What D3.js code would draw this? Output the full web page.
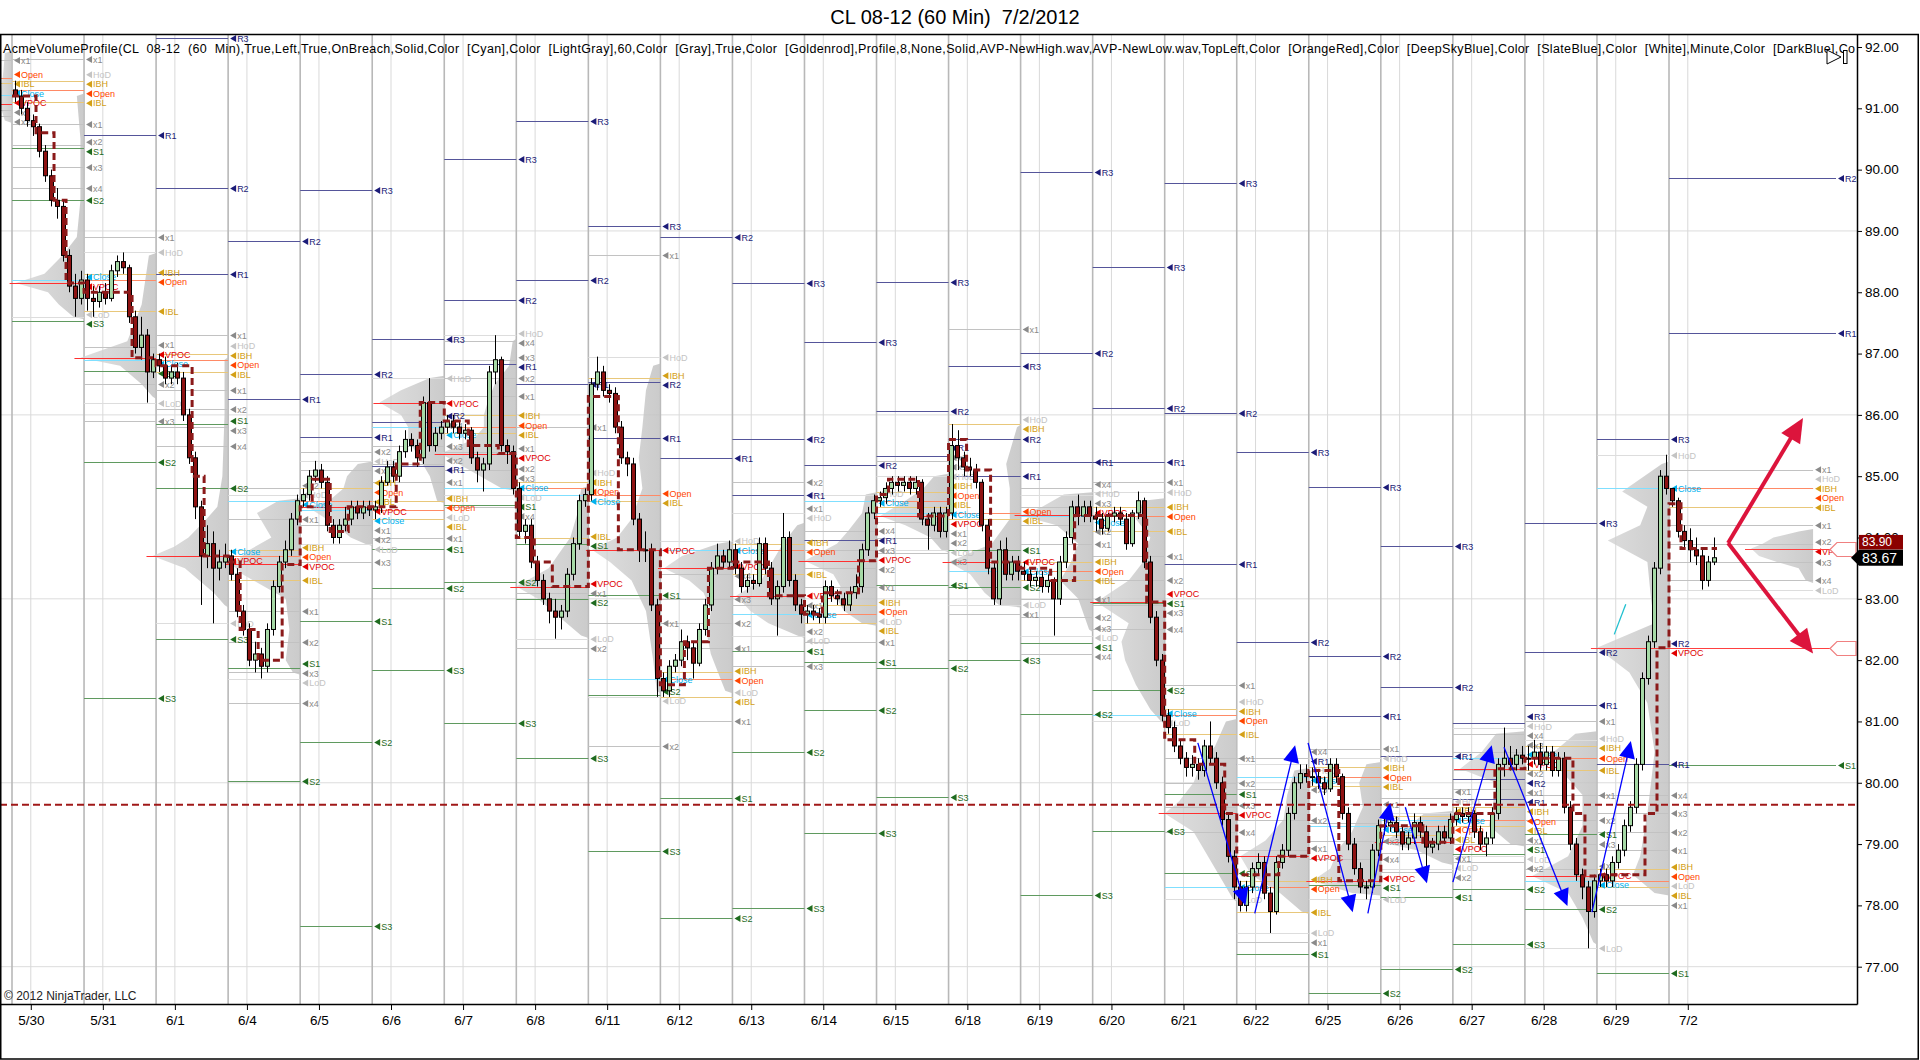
<!DOCTYPE html>
<html>
<head>
<meta charset="utf-8">
<script src="https://cdn.jsdelivr.net/npm/d3@7"></script>
<style>
  html, body { margin: 0; padding: 0; background: #fff; }
  svg { display: block; font-family: "Liberation Sans", Arial, sans-serif; }
</style>
</head>
<body>
<svg id="chart" width="1920" height="1060"></svg>
<script>
// ---- data ----
var sessionDates = ["5/30","5/31","6/1","6/4","6/5","6/6","6/7","6/8","6/11","6/12","6/13","6/14",
                    "6/15","6/18","6/19","6/20","6/21","6/22","6/25","6/26","6/27","6/28","6/29","7/2"];
var priceTicks = [77,78,79,80,81,82,83,84,85,86,87,88,89,90,91,92];
var gridPrices = [77,80,83,86,89];

// 5/29 session (mostly left of the chart): used for the 5/30 pivots and its own labels
var prevSession = {high: 92.58, low: 90.61, close: 91.22};
var prevLevels = [[91.78,"x1"],[91.5,"Open"],[91.41,"IBL"],[91.22,"Close"],[91.07,"VPOC"],[90.97,"x1"],[90.87,"x2"]];
var prevProfile = [[90.8,0.1],[91.07,0.17],[91.3,0.15],[91.6,0.12],[91.9,0.1]];
var firstOpen = 91.3;

var closes = [
  [91.2,91.0,90.8,90.7,90.3,89.9,89.5,89.4,88.6,88.1,87.9,88.2],
  [87.9,87.85,88.0,87.9,88.35,88.5,88.4,87.6,87.1,87.3,86.7,86.9],
  [86.8,86.6,86.7,86.6,86.0,85.3,84.5,83.7,83.9,83.5,83.6,83.7],
  [83.4,82.8,82.5,82.0,82.1,81.9,82.5,83.2,83.6,83.8,84.3,84.6],
  [84.7,85.0,85.1,84.9,84.2,84.0,84.2,84.3,84.5,84.4,84.5,84.45],
  [84.5,84.9,85.15,85.0,85.4,85.6,85.5,85.3,86.2,85.5,85.7,85.8],
  [85.9,85.8,85.7,85.75,85.3,85.1,85.2,86.7,86.9,85.5,85.4,84.8],
  [84.1,84.2,83.6,83.3,83.0,82.8,82.7,82.8,83.4,83.9,84.6,84.7],
  [86.5,86.7,86.4,86.35,85.8,85.3,85.2,84.3,83.8,83.8,82.9,81.7],
  [81.5,81.9,82.0,82.3,82.2,81.95,82.5,82.9,83.5,83.7,83.6,83.8],
  [83.5,83.2,83.3,83.25,83.9,83.5,83.0,83.2,84.0,83.3,82.9,82.75],
  [82.8,82.75,82.7,83.2,83.05,83.0,82.9,83.1,83.2,83.8,84.4,84.6],
  [84.65,84.8,84.9,84.85,84.9,84.8,84.9,84.3,84.2,84.4,84.1,84.4],
  [85.5,85.3,85.15,85.1,84.9,84.2,83.5,83.0,83.8,83.4,83.6,83.45],
  [83.4,83.3,83.35,83.2,83.3,83.0,83.6,84.0,84.5,84.35,84.5,84.35],
  [84.3,84.15,84.35,84.4,84.3,83.9,84.4,84.6,83.6,82.7,82.0,81.1],
  [80.9,80.6,80.4,80.25,80.3,80.2,80.6,80.4,80.0,79.4,78.8,78.3],
  [78.0,78.3,78.6,78.7,78.2,77.9,78.7,78.9,79.5,80.0,80.15,80.1],
  [80.1,80.0,79.9,80.3,80.1,79.5,79.0,78.6,78.3,78.3,78.9,79.3],
  [79.3,79.35,79.2,79.0,79.1,79.35,79.2,78.95,79.0,79.2,79.1,79.4],
  [79.5,79.45,79.5,79.2,79.0,79.1,79.5,80.3,80.4,80.3,80.45,80.4],
  [80.4,80.5,80.3,80.5,80.2,80.4,79.6,79.0,78.5,78.3,77.9,78.4],
  [78.5,78.4,78.7,78.9,79.3,79.6,80.3,81.7,82.3,83.5,85.0,84.8],
  [84.6,84.1,83.95,83.8,83.7,83.3,83.6,83.67]
];
var highs = [
  [91.45,91.3,91.1,90.9,90.75,90.4,90.0,89.7,89.5,88.7,88.3,88.35],
  [88.3,88.1,88.1,88.15,88.45,88.6,88.65,88.45,87.7,87.6,87.4,87.0],
  [87.0,86.95,86.8,86.85,86.7,86.1,85.4,84.6,84.2,84.1,83.8,83.9],
  [83.8,83.5,82.9,82.6,82.3,82.2,82.6,83.3,83.7,83.95,84.4,84.7],
  [84.8,85.1,85.25,85.2,85.0,84.3,84.3,84.5,84.6,84.6,84.6,84.6],
  [84.6,85.0,85.25,85.25,85.5,85.75,85.7,85.6,86.3,86.6,85.8,85.9],
  [86.0,86.0,85.9,85.85,85.8,85.4,85.3,86.8,87.3,86.95,85.6,85.5],
  [84.9,84.3,84.3,83.7,83.4,83.1,83.0,82.9,83.5,84.0,84.7,84.8],
  [86.6,86.95,86.8,86.5,86.45,85.9,85.4,85.3,84.4,84.1,83.9,83.0],
  [81.8,82.0,82.1,82.5,82.4,82.3,82.6,83.0,83.6,83.9,83.8,83.95],
  [83.9,83.6,83.4,83.4,84.0,84.0,83.6,83.3,84.4,84.1,83.4,83.0],
  [82.9,82.9,82.85,83.3,83.3,83.15,83.1,83.2,83.4,83.9,84.5,84.7],
  [84.75,84.9,85.0,85.0,85.0,85.0,85.0,84.95,84.4,84.5,84.5,84.5],
  [85.85,85.75,85.4,85.3,85.2,84.95,84.3,83.6,83.95,84.0,83.7,83.7],
  [83.6,83.5,83.45,83.45,83.4,83.35,83.7,84.1,84.6,84.7,84.6,84.6],
  [84.5,84.4,84.4,84.5,84.5,84.4,84.45,84.75,84.65,83.7,82.8,82.1],
  [81.2,81.0,80.7,80.5,80.45,80.4,80.7,81.0,80.5,80.1,79.5,78.9],
  [78.4,78.4,78.7,78.85,78.8,78.3,78.8,79.0,79.6,80.1,80.3,80.3],
  [80.25,80.2,80.1,80.4,80.4,80.15,79.6,79.1,78.7,78.4,79.0,79.4],
  [79.45,79.5,79.45,79.3,79.2,79.5,79.45,79.3,79.1,79.3,79.3,79.5],
  [79.6,79.6,79.6,79.55,79.3,79.2,79.6,80.4,80.9,80.6,80.55,80.6],
  [80.6,80.7,80.65,80.6,80.6,80.5,80.5,79.7,79.1,78.6,78.4,78.5],
  [78.6,78.6,78.8,79.0,79.4,79.7,80.4,81.8,82.4,83.6,85.1,85.35],
  [84.75,84.65,84.2,84.15,84.0,83.8,83.7,84.0]
];
var lows = [
  [91.1,90.9,90.7,90.55,90.2,89.8,89.4,89.2,88.5,88.0,87.6,87.8],
  [87.7,87.6,87.75,87.8,87.85,88.25,88.3,87.5,87.0,86.9,86.2,86.6],
  [86.7,86.5,86.5,86.5,85.9,85.2,84.3,82.9,83.5,82.6,83.3,83.5],
  [83.3,82.7,82.4,81.9,81.8,81.7,81.8,82.4,83.1,83.5,83.7,84.2],
  [84.5,84.6,84.9,84.8,84.1,83.9,83.9,84.1,84.2,84.3,84.3,84.35],
  [84.3,84.4,84.85,84.9,84.9,85.3,85.4,85.15,85.2,85.4,85.4,85.6],
  [85.7,85.7,85.6,85.6,85.2,84.9,84.75,85.1,86.5,85.4,85.2,84.7],
  [84.0,83.9,83.5,83.2,82.9,82.6,82.35,82.5,82.7,83.3,83.8,84.5],
  [84.6,86.4,86.3,86.2,85.7,85.2,85.0,84.2,83.6,83.6,82.8,81.4],
  [81.4,81.4,81.8,81.9,82.0,81.7,81.9,82.4,82.8,83.4,83.5,83.5],
  [83.4,83.1,83.1,83.15,83.2,83.4,82.9,82.4,83.1,83.2,82.8,82.6],
  [82.6,82.65,82.6,82.6,82.95,82.9,82.8,82.8,83.0,83.1,83.7,84.3],
  [84.5,84.55,84.7,84.75,84.75,84.7,84.7,84.2,83.8,84.1,84.0,84.0],
  [84.3,85.1,85.0,85.0,84.8,84.1,83.4,82.9,82.9,83.3,83.3,83.3],
  [83.3,83.2,83.2,83.1,83.1,82.4,82.9,83.5,83.9,84.2,84.25,84.25],
  [84.1,84.05,84.1,84.25,84.2,83.8,83.85,84.3,83.5,82.6,81.9,81.0],
  [80.8,80.5,80.3,80.1,80.1,80.05,80.1,80.3,79.9,79.3,78.7,78.1],
  [77.9,77.9,78.2,78.5,78.1,77.55,77.85,78.6,78.8,79.4,79.9,80.0],
  [79.95,79.9,79.8,79.85,80.0,79.4,78.9,78.5,78.2,78.1,78.2,78.8],
  [79.15,79.2,79.1,78.9,78.9,79.0,79.1,78.6,78.85,78.9,79.0,79.0],
  [79.3,79.35,79.35,79.1,78.9,78.8,79.0,79.4,80.1,80.2,80.2,80.3],
  [80.2,80.3,80.2,80.2,80.1,80.1,79.5,78.9,78.4,78.1,77.3,77.8],
  [78.3,78.3,78.3,78.6,78.8,79.2,79.5,80.2,81.6,82.2,83.4,84.7],
  [84.5,84.0,83.8,83.6,83.55,83.15,83.2,83.55]
];

// volume profile per session: [price, relative volume]
var profiles = [
  [[87.6,0.15],[87.8,0.35],[88.0,0.5],[88.15,0.95],[88.3,0.55],[88.6,0.3],[88.9,0.1],[89.5,0.05],[90.5,0.05],[91.2,0.1]],
  [[86.3,0.05],[86.5,0.2],[86.8,0.5],[86.93,1.05],[87.2,0.4],[87.5,0.3],[87.8,0.2],[88.2,0.15],[88.6,0.1]],
  [[82.9,0.05],[83.1,0.2],[83.3,0.4],[83.5,0.6],[83.7,1.05],[83.85,0.75],[84.0,0.55],[84.3,0.3],[84.5,0.15],[85.0,0.08],[86.0,0.05],[86.9,0.05]],
  [[81.8,0.1],[82.0,0.2],[82.5,0.15],[83.0,0.2],[83.2,0.5],[83.4,0.8],[83.56,0.95],[83.8,0.7],[84.0,0.4],[84.2,0.5],[84.4,0.6],[84.6,0.3]],
  [[83.9,0.1],[84.0,0.3],[84.2,0.5],[84.35,0.7],[84.5,0.9],[84.6,0.6],[84.8,0.4],[85.0,0.35],[85.2,0.2]],
  [[84.6,0.1],[85.0,0.2],[85.2,0.3],[85.4,0.4],[85.6,0.5],[85.8,0.5],[86.0,0.6],[86.2,0.9],[86.4,0.6],[86.6,0.2]],
  [[84.8,0.2],[85.0,0.5],[85.2,0.8],[85.37,1.05],[85.6,0.6],[85.8,0.45],[86.0,0.45],[86.2,0.4],[86.5,0.3],[86.8,0.1],[87.2,0.05]],
  [[82.4,0.1],[82.6,0.3],[82.8,0.5],[83.0,0.7],[83.2,1.0],[83.5,0.55],[83.75,0.4],[84.0,0.25],[84.4,0.15],[84.8,0.1]],
  [[81.5,0.05],[82.0,0.1],[82.8,0.2],[83.3,0.4],[83.6,0.7],[83.8,0.95],[84.0,0.6],[84.3,0.4],[84.8,0.25],[85.3,0.3],[85.8,0.25],[86.4,0.2],[86.8,0.1]],
  [[81.5,0.1],[81.8,0.2],[82.1,0.3],[82.4,0.35],[82.8,0.3],[83.1,0.4],[83.3,0.6],[83.5,0.95],[83.7,0.7],[83.9,0.2]],
  [[82.4,0.1],[82.6,0.5],[82.8,0.75],[83.05,0.95],[83.3,0.6],[83.6,0.45],[83.9,0.3],[84.2,0.1]],
  [[82.6,0.2],[82.8,0.45],[83.0,0.55],[83.2,0.5],[83.4,0.6],[83.62,1.0],[83.9,0.55],[84.1,0.4],[84.4,0.2],[84.7,0.15]],
  [[83.8,0.1],[84.0,0.25],[84.2,0.6],[84.35,0.95],[84.6,0.6],[84.8,0.35],[85.0,0.2]],
  [[82.9,0.3],[83.1,0.5],[83.4,0.7],[83.6,1.0],[83.9,0.4],[84.3,0.15],[84.8,0.15],[85.2,0.2],[85.8,0.05]],
  [[82.5,0.05],[83.0,0.2],[83.3,0.45],[83.6,0.3],[83.9,0.2],[84.2,0.5],[84.36,1.0],[84.5,0.7],[84.7,0.4]],
  [[81.0,0.05],[81.2,0.2],[81.6,0.4],[82.0,0.55],[82.3,0.6],[82.6,0.5],[82.95,0.95],[83.3,0.5],[83.6,0.3],[84.0,0.2],[84.3,0.4],[84.6,0.3]],
  [[78.1,0.05],[78.4,0.2],[78.8,0.4],[79.2,0.6],[79.5,1.0],[79.7,0.8],[80.0,0.6],[80.3,0.5],[80.6,0.3],[81.0,0.15]],
  [[77.9,0.1],[78.2,0.4],[78.5,0.8],[78.8,0.95],[79.06,0.6],[79.4,0.35],[79.8,0.3],[80.2,0.2]],
  [[78.2,0.4],[78.4,0.95],[78.6,0.7],[78.9,0.6],[79.2,0.4],[79.6,0.25],[80.0,0.3],[80.3,0.2]],
  [[78.7,0.15],[78.9,0.5],[79.03,1.0],[79.15,0.8],[79.3,0.6],[79.5,0.4]],
  [[79.0,0.2],[79.3,0.5],[79.6,0.45],[80.0,0.4],[80.23,0.9],[80.5,0.6],[80.8,0.4]],
  [[77.4,0.05],[77.8,0.2],[78.2,0.4],[78.48,0.9],[78.8,0.4],[79.3,0.2],[79.8,0.2],[80.2,0.5],[80.5,0.6],[80.8,0.3]],
  [[78.2,0.2],[78.5,0.5],[78.8,0.4],[79.5,0.3],[80.5,0.2],[81.3,0.3],[81.8,0.55],[82.2,1.0],[82.6,0.2],[83.0,0.25],[83.6,0.3],[83.95,0.85],[84.2,0.4],[84.5,0.3],[84.75,0.65],[85.2,0.1]],
  [[83.3,0.1],[83.5,0.2],[83.6,0.5],[83.7,0.75],[83.82,0.86],[83.9,0.7],[84.0,0.55],[84.1,0.2]]
];

// developing VPOC steps: [session, bar, price]
var devVpoc = [
  [0,0,91.2],[0,4,90.6],[0,7,89.5],[0,9,88.15],
  [1,0,88.0],[1,8,86.93],
  [2,0,86.8],[2,6,85.0],[2,8,83.7],
  [3,0,83.6],[3,2,82.5],[3,5,82.0],[3,9,83.56],
  [4,0,84.5],[4,2,84.95],[4,5,84.1],[4,8,84.5],
  [5,0,84.5],[5,4,85.2],[5,8,86.2],
  [6,0,85.9],[6,4,85.5],[6,9,85.37],
  [7,0,84.0],[7,3,83.6],[7,6,83.2],
  [8,0,86.3],[8,5,83.8],
  [9,0,81.6],[9,4,82.3],[9,8,83.5],
  [10,0,83.6],[10,6,83.05],
  [11,0,82.75],[11,3,83.1],[11,9,83.62],
  [12,0,84.7],[12,2,84.95],[12,7,84.35],
  [13,0,85.6],[13,3,85.1],[13,7,83.6],
  [14,0,83.5],[14,5,83.3],[14,9,84.36],
  [15,0,84.36],[15,9,82.95],
  [16,0,80.7],[16,5,80.3],[16,10,79.5],
  [17,0,78.5],[17,7,78.8],
  [18,0,80.2],[18,5,78.4],
  [19,0,79.3],[19,7,79.03],
  [20,0,79.5],[20,7,80.23],
  [21,0,80.4],[21,8,79.5],[21,10,78.48],
  [22,0,78.5],[22,8,79.5],[22,10,82.2],
  [23,0,84.55],[23,2,83.82]
];

// hand drawn annotations, in [session time, price]
var blueArrows = [
  [16.46,80.65,17.12,78.0],[17.25,77.87,17.81,80.61],[17.99,80.65,18.61,77.89],
  [18.82,77.87,19.13,79.67],[19.34,79.6,19.64,78.36],[20.0,78.38,20.54,80.61],
  [20.71,80.58,21.59,77.99],[21.93,77.89,22.47,80.68]
];
var cyanStroke = [22.24,82.42,22.40,82.91];
var redArrowBase = [23.82,83.91];
var redArrowTips = [[24.86,85.95],[25.0,82.11]];
var supportLevel = 79.64;
var lastPrice = 83.67;
var vpocMarkerPrice = "83.90";

// ---- layout ----
var W = 1920, H = 1060;
var plot = {left: 0, right: 1857, top: 34, bottom: 1004};
var barsPerSession = 12;
var lastSession = closes.length - 1;

var x = d3.scaleLinear().domain([0, 23]).range([12, 1669]);
var y = d3.scaleLinear().domain([77, 92]).range([966.7, 47]);
var sessW = x(1) - x(0);
var profW = d3.scaleLinear().domain([0, 1]).range([0, sessW]);

var svg = d3.select("#chart");
var defs = svg.append("defs");
defs.append("clipPath").attr("id", "plotClip").append("rect")
  .attr("x", plot.left).attr("y", plot.top)
  .attr("width", plot.right - plot.left).attr("height", plot.bottom - plot.top);
var grad = defs.append("linearGradient").attr("id", "profGrad");
grad.append("stop").attr("offset", "0%").attr("stop-color", "#d4d4d4").attr("stop-opacity", 0.75);
grad.append("stop").attr("offset", "100%").attr("stop-color", "#c2c2c2").attr("stop-opacity", 0.85);

svg.append("rect").attr("width", W).attr("height", H).attr("fill", "#fff");

// bars
var bars = [];
var prevClose = firstOpen;
closes.forEach(function(sess, s) {
  sess.forEach(function(c, j) {
    var o = prevClose;
    bars.push({s: s, j: j, t: s + (j + 0.5) / barsPerSession, o: o,
      h: Math.max(highs[s][j], o, c), l: Math.min(lows[s][j], o, c), c: c});
    prevClose = c;
  });
});

// session summaries
var sessions = closes.map(function(sess, s) {
  var sb = bars.filter(function(b) { return b.s === s; });
  var prof = profiles[s];
  var vp = prof.reduce(function(a, b) { return b[1] > a[1] ? b : a; });
  return {
    s: s, bars: sb,
    open: sb[0].o, close: sb[sb.length - 1].c,
    high: d3.max(sb, function(b) { return b.h; }),
    low: d3.min(sb, function(b) { return b.l; }),
    ibh: sb[0].h, ibl: sb[0].l,
    vpoc: vp[0], vpocW: d3.max(prof, function(p) { return p[1]; })
  };
});

var g = svg.append("g").attr("clip-path", "url(#plotClip)");

// grid
g.selectAll(".hgrid").data(gridPrices).enter().append("line")
  .attr("x1", plot.left).attr("x2", plot.right)
  .attr("y1", function(d) { return y(d); }).attr("y2", function(d) { return y(d); })
  .attr("stroke", "#dcdcdc").attr("stroke-width", 1);
g.selectAll(".dgrid").data(sessionDates).enter().append("line")
  .attr("x1", function(d, i) { return x(i + 6 / 23); }).attr("x2", function(d, i) { return x(i + 6 / 23); })
  .attr("y1", plot.top).attr("y2", plot.bottom)
  .attr("stroke", "#d9d9d9").attr("stroke-width", 1);
g.selectAll(".sgrid").data(sessionDates).enter().append("line")
  .attr("x1", function(d, i) { return x(i); }).attr("x2", function(d, i) { return x(i); })
  .attr("y1", plot.top).attr("y2", plot.bottom)
  .attr("stroke", "#b8b8b8").attr("stroke-width", 1.6);

// profiles
function anchorX(s) { return s < lastSession ? x(s + 1) : x(s + 2); }
var area = d3.area()
  .y(function(d) { return y(d[0]); })
  .x0(function(d) { return d.ax; })
  .x1(function(d) { return d.ax - profW(d[1]); });
function drawProfile(knots, ax) {
  var pts = knots.slice().sort(function(a, b) { return a[0] - b[0]; });
  var full = [[pts[0][0] - 0.04, 0]].concat(pts, [[pts[pts.length - 1][0] + 0.04, 0]])
    .map(function(p) { var q = [p[0], p[1]]; q.ax = ax; return q; });
  g.append("path").attr("d", area(full)).attr("fill", "url(#profGrad)");
}
drawProfile(prevProfile, x(0));
sessions.forEach(function(se) { drawProfile(profiles[se.s], anchorX(se.s)); });

// level lines; labels are collected per column and spread so they do not collide
var levels = g.append("g");
var labelCols = {};
var levelStyle = {
  R: ["#55559a", "#1c1c78"], S: ["#5f9a5f", "#1f6b1f"], x: ["#c2c2c2", "#8a8a8a"],
  HoD: ["#dddddd", "#c4c4c4"], LoD: ["#dddddd", "#c4c4c4"], IBH: ["#e8c77a", "#d4a017"],
  IBL: ["#e8c77a", "#d4a017"], Open: ["#ff8a66", "#ff4500"], Close: ["#7fdfff", "#00b2ee"],
  VPOC: ["#ff3030", "#e00000"]
};
function level(x1, x2, price, text) {
  if (price < 76.3 || price > 92.3) return;
  var st = levelStyle[text] || levelStyle[text.charAt(0)];
  var yy = Math.round(y(price)) + 0.5;
  levels.append("line").attr("x1", x1).attr("x2", x2).attr("y1", yy).attr("y2", yy)
    .attr("stroke", st[0]).attr("stroke-width", 1);
  var key = Math.round(x2);
  (labelCols[key] = labelCols[key] || []).push({x: x2, y: yy, text: text, color: st[1]});
}

prevLevels.forEach(function(p) { level(0, x(0), p[0], p[1]); });

sessions.forEach(function(se) {
  var s = se.s;
  var xs = x(s);
  var xe = s < lastSession ? x(s + 1) : x(s + 2);
  var prev = s === 0 ? prevSession : sessions[s - 1];
  var P = (prev.high + prev.low + prev.close) / 3, rg = prev.high - prev.low;
  var r1 = 2 * P - prev.low, s1 = 2 * P - prev.high;
  var r2 = P + rg, s2 = P - rg, r3 = r2 + rg, s3 = s2 - rg;
  var pe = s < lastSession ? xe : 1836;
  [[r3, "R3"], [r2, "R2"], [r1, "R1"], [s1, "S1"], [s2, "S2"], [s3, "S3"]]
    .forEach(function(p) { level(xs, pe, p[0], p[1]); });

  var ib = Math.max(se.ibh - se.ibl, 0.1);
  for (var n = 1; n <= 4; n++) {
    var up = se.ibh + n * ib, dn = se.ibl - n * ib;
    if (up <= se.high + ib) level(xs, xe, up, "x" + n);
    if (dn >= se.low - ib) level(xs, xe, dn, "x" + n);
  }
  level(xs, xe, se.high, "HoD");
  level(xs, xe, se.low, "LoD");
  level(xs, xe, se.ibh, "IBH");
  level(xs, xe, se.ibl, "IBL");
  level(xs, xe, se.open, "Open");
  if (s < lastSession) level(xs, xe, se.close, "Close");
  level(anchorX(s) - profW(se.vpocW) - 6, xe, se.vpoc, "VPOC");
});

function spread(items, gap) {
  items.sort(function(a, b) { return a.y - b.y; });
  var cl = items.map(function(it) { return {items: [it], c: it.y}; });
  var merged = true;
  while (merged) {
    merged = false;
    for (var i = 1; i < cl.length; i++) {
      var a = cl[i - 1], b = cl[i];
      var aBot = a.c + (a.items.length - 1) * gap / 2, bTop = b.c - (b.items.length - 1) * gap / 2;
      if (bTop - aBot < gap) {
        var all = a.items.concat(b.items);
        cl.splice(i - 1, 2, {items: all, c: d3.mean(all, function(d) { return d.y; })});
        merged = true;
        break;
      }
    }
  }
  cl.forEach(function(c) {
    c.items.forEach(function(it, k) { it.ly = c.c + (k - (c.items.length - 1) / 2) * gap; });
  });
}
Object.keys(labelCols).forEach(function(k) {
  var items = labelCols[k];
  spread(items, 9.5);
  items.forEach(function(it) {
    levels.append("path").attr("d", "M" + (it.x + 2) + "," + it.ly + "l6,-3.5v7z").attr("fill", it.color);
    levels.append("text").attr("x", it.x + 9).attr("y", it.ly).attr("dy", "0.35em")
      .attr("font-size", 9).attr("fill", it.color).text(it.text);
  });
});

// naked VPOCs running to the right edge
[lastSession - 1, lastSession].forEach(function(s) {
  var se = sessions[s];
  var yy = Math.round(y(se.vpoc)) + 0.5;
  g.append("line").attr("x1", anchorX(s) - profW(se.vpocW) - 6).attr("x2", 1830)
    .attr("y1", yy).attr("y2", yy).attr("stroke", "#ff4040").attr("stroke-width", 1.2);
  g.append("path").attr("d", "M1830," + yy + "l7,-7h19v14h-19z")
    .attr("fill", "#fff").attr("stroke", "#f08080").attr("stroke-width", 1.2);
});

// candles
var half = sessW / barsPerSession * 0.36;
var cg = g.append("g");
cg.selectAll(".wick").data(bars).enter().append("line")
  .attr("x1", function(d) { return Math.round(x(d.t)) + 0.5; })
  .attr("x2", function(d) { return Math.round(x(d.t)) + 0.5; })
  .attr("y1", function(d) { return y(d.h); }).attr("y2", function(d) { return y(d.l); })
  .attr("stroke", "#000").attr("stroke-width", 1);
cg.selectAll(".body").data(bars).enter().append("rect")
  .attr("x", function(d) { return Math.round(x(d.t) - half) + 0.5; })
  .attr("y", function(d) { return y(Math.max(d.o, d.c)); })
  .attr("width", Math.round(half * 2))
  .attr("height", function(d) { return Math.max(1, Math.abs(y(d.o) - y(d.c))); })
  .attr("fill", function(d) { return d.c >= d.o ? "#a6d9a6" : "#8e1212"; })
  .attr("stroke", "#000").attr("stroke-width", 1);

// developing VPOC
var devPts = devVpoc.map(function(d) { return [x(d[0] + d[1] / barsPerSession), y(d[2])]; });
var lastBar = bars[bars.length - 1];
devPts.push([x(lastBar.t + 0.5 / barsPerSession), y(devVpoc[devVpoc.length - 1][2])]);
g.append("path").attr("d", d3.line().curve(d3.curveStepAfter)(devPts))
  .attr("fill", "none").attr("stroke", "#8b1a1a").attr("stroke-width", 3)
  .attr("stroke-dasharray", "7,4");

// support line
g.append("line").attr("x1", plot.left).attr("x2", plot.right)
  .attr("y1", y(supportLevel)).attr("y2", y(supportLevel))
  .attr("stroke", "#a01818").attr("stroke-width", 2).attr("stroke-dasharray", "7,4");

// arrows
function arrow(x0, y0, x1, y1, color, width, hl, hw) {
  var dx = x1 - x0, dy = y1 - y0, len = Math.sqrt(dx * dx + dy * dy);
  var ux = dx / len, uy = dy / len;
  var bx = x1 - ux * hl, by = y1 - uy * hl;
  g.append("line").attr("x1", x0).attr("y1", y0).attr("x2", bx + ux * 2).attr("y2", by + uy * 2)
    .attr("stroke", color).attr("stroke-width", width);
  g.append("path").attr("d", "M" + x1 + "," + y1 + "L" + (bx - uy * hw) + "," + (by + ux * hw) +
    "L" + (bx + uy * hw) + "," + (by - ux * hw) + "Z").attr("fill", color);
}
blueArrows.forEach(function(a) { arrow(x(a[0]), y(a[1]), x(a[2]), y(a[3]), "#0000ff", 1.3, 17, 8); });
g.append("line").attr("x1", x(cyanStroke[0])).attr("y1", y(cyanStroke[1]))
  .attr("x2", x(cyanStroke[2])).attr("y2", y(cyanStroke[3])).attr("stroke", "#20c0d0").attr("stroke-width", 1.3);
redArrowTips.forEach(function(t) {
  arrow(x(redArrowBase[0]), y(redArrowBase[1]), x(t[0]), y(t[1]), "#dc143c", 4, 24, 11);
});

// indicator caption
g.append("text").attr("x", 3).attr("y", 53).attr("font-size", 12.5).attr("fill", "#000")
  .style("white-space", "pre").attr("textLength", 1852).attr("lengthAdjust", "spacing")
  .text("AcmeVolumeProfile(CL  08-12  (60  Min),True,Left,True,OnBreach,Solid,Color  [Cyan],Color  [LightGray],60,Color  [Gray],True,Color  [Goldenrod],Profile,8,None,Solid,AVP-NewHigh.wav,AVP-NewLow.wav,TopLeft,Color  [OrangeRed],Color  [DeepSkyBlue],Color  [SlateBlue],Color  [White],Minute,Color  [DarkBlue],Co");

// play icon top right
svg.append("path").attr("d", "M1827,50L1841,57L1827,64Z").attr("fill", "#fff").attr("stroke", "#000");
svg.append("rect").attr("x", 1843.5).attr("y", 50.5).attr("width", 3.5).attr("height", 13)
  .attr("fill", "#fff").attr("stroke", "#000");

// copyright
svg.append("text").attr("x", 4).attr("y", 1000).attr("font-size", 12).attr("fill", "#222")
  .text("\u00a9 2012 NinjaTrader, LLC");

// axes
var yAxis = d3.axisRight(y).tickValues(priceTicks).tickSize(5).tickPadding(3)
  .tickFormat(function(d) { return d.toFixed(2); });
var ya = svg.append("g").attr("transform", "translate(" + plot.right + ",0)").call(yAxis);
ya.select(".domain").remove();
ya.selectAll("text").attr("font-size", 13.5).attr("fill", "#000")
  .attr("font-family", "'Liberation Sans', Arial, sans-serif");

var xAxis = d3.axisBottom(d3.scalePoint().domain(sessionDates).range([x(6 / 23), x(23 + 6 / 23)]))
  .tickSize(6).tickPadding(5);
var xa = svg.append("g").attr("transform", "translate(0," + plot.bottom + ")").call(xAxis);
xa.select(".domain").remove();
xa.selectAll("text").attr("font-size", 13.5).attr("fill", "#000")
  .attr("font-family", "'Liberation Sans', Arial, sans-serif");

// price markers: the red VPOC marker peeks out above the last price
var ym = y(lastPrice);
defs.append("clipPath").attr("id", "vpocMarkClip").append("rect")
  .attr("x", 1859).attr("y", ym - 23).attr("width", 44).attr("height", 15);
var vm = svg.append("g").attr("clip-path", "url(#vpocMarkClip)");
vm.append("rect").attr("x", 1859).attr("y", ym - 23).attr("width", 44).attr("height", 15).attr("fill", "#8b0000");
vm.append("text").attr("x", 1862).attr("y", ym - 12).attr("font-size", 12).attr("fill", "#fff").text(vpocMarkerPrice);
svg.append("path").attr("d", "M1851," + ym + "l8,-8h44v16h-44z").attr("fill", "#000");
svg.append("text").attr("x", 1862).attr("y", ym + 5).attr("font-size", 14).attr("fill", "#fff").text(lastPrice.toFixed(2));

// frames
svg.append("line").attr("x1", plot.right + 0.5).attr("x2", plot.right + 0.5).attr("y1", plot.top).attr("y2", plot.bottom + 0.5)
  .attr("stroke", "#000").attr("stroke-width", 1.5);
svg.append("line").attr("x1", 0).attr("x2", plot.right + 0.5).attr("y1", plot.bottom + 0.5).attr("y2", plot.bottom + 0.5)
  .attr("stroke", "#000").attr("stroke-width", 1.5);
svg.append("rect").attr("x", 0.75).attr("y", plot.top + 0.5).attr("width", W - 2.5).attr("height", H - plot.top - 1.5)
  .attr("fill", "none").attr("stroke", "#000").attr("stroke-width", 1.5);

// title
svg.append("text").attr("x", 955).attr("y", 24).attr("text-anchor", "middle").attr("font-size", 20)
  .attr("fill", "#000").style("white-space", "pre").text("CL 08-12 (60 Min)  7/2/2012");
</script>
</body>
</html>
